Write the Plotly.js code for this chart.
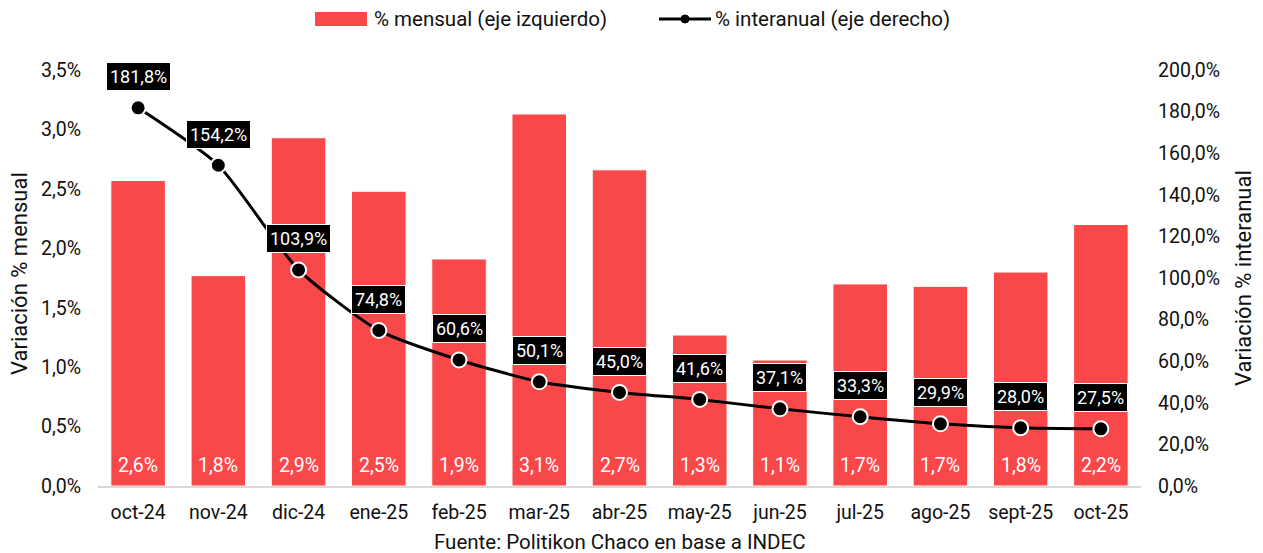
<!DOCTYPE html>
<html><head><meta charset="utf-8">
<script src="https://cdn.plot.ly/plotly-3.0.1.min.js"></script>
<style>body{margin:0;background:#fff}#c{width:1263px;height:553px}</style>
</head><body><div id="c"></div>
<script>
const categories = ["oct-24","nov-24","dic-24","ene-25","feb-25","mar-25","abr-25","may-25","jun-25","jul-25","ago-25","sept-25","oct-25"];
const mensual = [2.57,1.77,2.93,2.48,1.91,3.13,2.66,1.27,1.06,1.70,1.68,1.80,2.20];
const interanual = [181.8,154.2,103.9,74.8,60.6,50.1,45.0,41.6,37.1,33.3,29.9,28.0,27.5];
const leftTicks = [0,0.5,1,1.5,2,2.5,3,3.5];
const rightTicks = [0,20,40,60,80,100,120,140,160,180,200];
const legendNames = ['% mensual (eje izquierdo)', '% interanual (eje derecho)'];

const F = 'Roboto, "Liberation Sans", sans-serif';
const fmt1 = v => v.toFixed(1).replace('.', ',') + '%';

const L = 98, R = 122, T = 70, B = 67, W = 1263, H = 553;
const pw = W - L - R, ph = H - T - B;
const px = x => (x - L) / pw;
const py = y => (H - B - y) / ph;

const RED = '#F9484A';
const traces = [
  {type:'bar', x:categories, y:mensual, name:legendNames[0], showlegend:false,
   marker:{color:RED, line:{color:'#ffffff', width:1}}, width:0.68, yaxis:'y', hoverinfo:'none'},
  {type:'scatter', mode:'lines+markers', x:categories, y:interanual, name:legendNames[1], showlegend:false,
   yaxis:'y2', line:{color:'#000', width:3, shape:'spline', smoothing:0.6},
   marker:{color:'#000', size:15, line:{color:'#fff', width:2}}, hoverinfo:'none', cliponaxis:false}
];

const ann = [];
categories.forEach((c,i)=>{
  ann.push({x:c, y:0, xref:'x', yref:'y', text:fmt1(mensual[i]), showarrow:false,
    yshift:21, font:{family:F, size:19.5, color:'#fff'}});
  ann.push({x:c, y:interanual[i], xref:'x', yref:'y2', text:fmt1(interanual[i]), showarrow:false,
    yshift:31, bgcolor:'#000', bordercolor:'#fff', borderwidth:1, borderpad:3,
    font:{family:F, size:18, color:'#fff'}});
});
ann.push({x:0.5, y:py(542), xref:'paper', yref:'paper', text:'Fuente: Politikon Chaco en base a INDEC',
  showarrow:false, font:{family:F, size:20.5, color:'#111'}, yanchor:'middle', xanchor:'center'});
ann.push({x:px(19), y:py(274), xref:'paper', yref:'paper', text:'Variación % mensual', textangle:-90,
  showarrow:false, font:{family:F, size:22, color:'#111'}, xanchor:'center', yanchor:'middle'});
ann.push({x:px(1243), y:py(278), xref:'paper', yref:'paper', text:'Variación % interanual', textangle:-90,
  showarrow:false, font:{family:F, size:22, color:'#111'}, xanchor:'center', yanchor:'middle'});
ann.push({x:px(372), y:py(19), xref:'paper', yref:'paper', text:legendNames[0], showarrow:false,
  xanchor:'left', yanchor:'middle', font:{family:F, size:20.5, color:'#111'}});
ann.push({x:px(713), y:py(19), xref:'paper', yref:'paper', text:legendNames[1], showarrow:false,
  xanchor:'left', yanchor:'middle', font:{family:F, size:20.5, color:'#111'}});

const shapes = [
  {type:'rect', xref:'paper', yref:'paper', x0:px(315), x1:px(367), y0:py(26), y1:py(12), fillcolor:RED, line:{width:0}},
  {type:'line', xref:'paper', yref:'paper', x0:px(659), x1:px(711), y0:py(19), y1:py(19), line:{color:'#000', width:3}},
  {type:'circle', xref:'paper', yref:'paper', x0:px(681), x1:px(689), y0:py(23), y1:py(15), fillcolor:'#000', line:{color:'#000', width:1}}
];

const layout = {
  width:W, height:H,
  margin:{l:L, r:R, t:T, b:B, autoexpand:false},
  paper_bgcolor:'#fff', plot_bgcolor:'#fff',
  font:{family:F, size:20, color:'#111'},
  showlegend:false,
  xaxis:{type:'category', range:[-0.5, 12.5], autorange:false, showgrid:false, showline:true, linecolor:'#d9d9d9', linewidth:2, ticks:'',
    tickfont:{size:19.5}, automargin:false, ticklabelstandoff:8},
  yaxis:{range:[0,3.5], tickvals:leftTicks, ticktext:leftTicks.map(fmt1), showgrid:false, zeroline:false,
    tickfont:{size:19.5}, ticks:'', automargin:false, ticklabelstandoff:16},
  yaxis2:{range:[0,200], overlaying:'y', side:'right', tickvals:rightTicks, ticktext:rightTicks.map(fmt1), showgrid:false, zeroline:false,
    tickfont:{size:19.5}, ticks:'', automargin:false, ticklabelstandoff:16},
  annotations:ann, shapes:shapes
};
Plotly.newPlot('c', traces, layout, {displayModeBar:false, staticPlot:true});
</script></body></html>
